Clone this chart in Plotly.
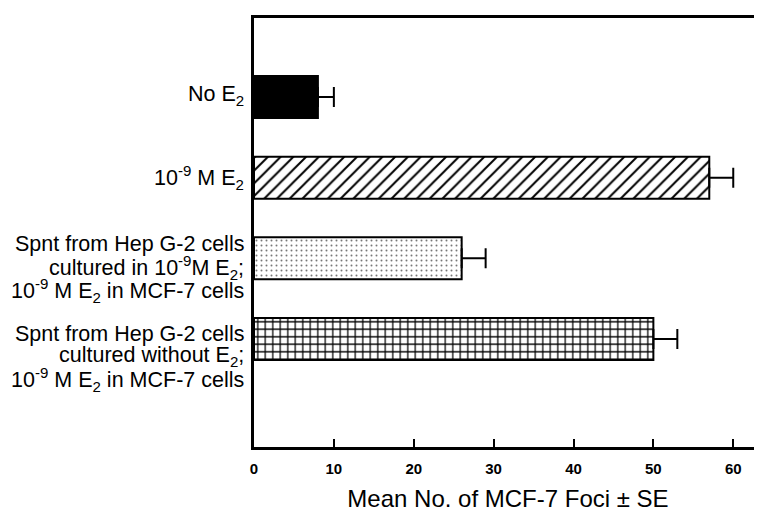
import plotly.graph_objects as go

# ---- data ----
categories = [
    "No E<sub>2</sub>",
    "10<sup>-9</sup> M E<sub>2</sub>",
    "Spnt from Hep G-2 cells<br>cultured in 10<sup>-9</sup>M E<sub>2</sub>;<br>10<sup>-9</sup> M E<sub>2</sub> in MCF-7 cells",
    "Spnt from Hep G-2 cells<br>cultured without E<sub>2</sub>;<br>10<sup>-9</sup> M E<sub>2</sub> in MCF-7 cells",
]
means = [8, 57, 26, 50]
se = [2, 3, 3, 3]
x_ticks = [0, 10, 20, 30, 40, 50, 60]
x_title = "Mean No. of MCF-7 Foci ± SE"

# ---- styles ----
patterns = ["", "/", ".", "+"]
pattern_fg = ["black", "black", "#777777", "black"]
pattern_size = [8, 9, 5, 7.5]
pattern_solid = [0.3, 0.22, 0.12, 0.3]
fills = ["black", "white", "white", "white"]
label_offsets = [-2, 0, 9, 18]
line_gap = 23
FONT = "Liberation Sans, Arial, sans-serif"

fig = go.Figure()
for i, cat in enumerate(categories):
    fig.add_trace(go.Bar(
        y=[cat], x=[means[i]], orientation="h", width=0.52,
        marker=dict(
            color=fills[i],
            line=dict(color="black", width=2),
            pattern=dict(shape=patterns[i], fgcolor=pattern_fg[i], bgcolor=fills[i],
                         size=pattern_size[i], solidity=pattern_solid[i], fillmode="replace"),
        ),
        error_x=dict(type="data", array=[se[i]], arrayminus=[0], symmetric=False,
                     color="black", thickness=2, width=10),
        showlegend=False,
    ))

# category labels drawn line by line for tight spacing
annotations = []
for i, cat in enumerate(categories):
    lines = cat.split("<br>")
    n = len(lines)
    for j, ln in enumerate(lines):
        annotations.append(dict(
            x=0, xref="paper", xanchor="right", xshift=-8,
            y=cat, yref="y", yanchor="middle",
            yshift=-((j - (n - 1) / 2) * line_gap + label_offsets[i]),
            text=ln, showarrow=False,
            font=dict(family=FONT, size=21.5, color="black"),
        ))

fig.update_layout(
    width=754, height=505,
    margin=dict(l=246, r=0, t=10, b=66),
    paper_bgcolor="white", plot_bgcolor="white",
    bargap=0.48,
    annotations=annotations,
    xaxis=dict(
        range=[0, 63.6], tickvals=x_ticks, ticktext=[str(v) for v in x_ticks],
        showline=True, linecolor="black", linewidth=2.5, mirror=True,
        ticks="inside", ticklen=8, tickwidth=1.5, tickcolor="black",
        showgrid=False, zeroline=False,
        tickfont=dict(family=FONT, size=15, color="black", weight="bold"),
        ticklabelstandoff=6,
        title=dict(text=x_title, font=dict(family=FONT, size=24, color="black"), standoff=15),
    ),
    yaxis=dict(
        type="category", categoryorder="array", categoryarray=categories,
        range=[4.34, -0.98],
        showline=True, linecolor="black", linewidth=2.5,
        showticklabels=False, ticks="", showgrid=False, zeroline=False,
    ),
)

fig.write_html("out.html")
